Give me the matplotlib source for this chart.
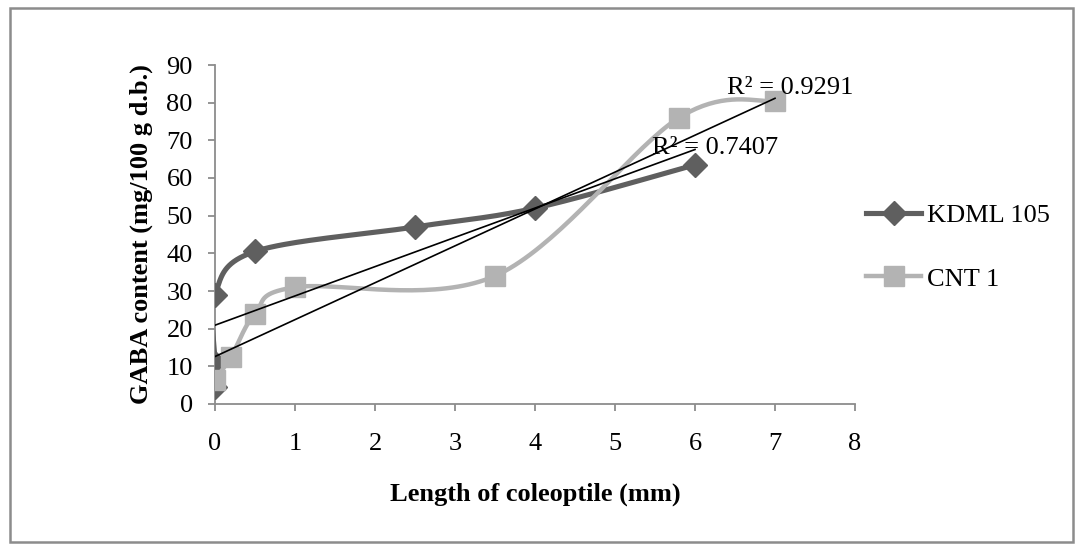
import numpy as np
import matplotlib
matplotlib.use("Agg")
import matplotlib.pyplot as plt
from matplotlib.patches import Rectangle
from matplotlib.lines import Line2D

# ---- data ----
kdml_x = [0, 0, 0, 0.5, 2.5, 4, 6]
kdml_y = [4.5, 11, 29, 40.5, 47, 52, 63.5]
cnt_x = [0, 0.2, 0.5, 1, 3.5, 5.8, 7]
cnt_y = [6.5, 12.5, 24, 31, 34, 76, 80.5]
series_names = ["KDML 105", "CNT 1"]
r2_labels = ["R² = 0.7407", "R² = 0.9291"]
x_ticks = [0, 1, 2, 3, 4, 5, 6, 7, 8]
y_ticks = [0, 10, 20, 30, 40, 50, 60, 70, 80, 90]
x_title = "Length of coleoptile (mm)"
y_title = "GABA content (mg/100 g d.b.)"

plt.rcParams['font.family'] = ['Liberation Serif', 'DejaVu Serif']
FS = 19


def smooth(xs, ys, n=40):
    """Catmull-Rom style Bezier smoothing (like Excel's smoothed line)."""
    P = np.column_stack([xs, ys]).astype(float)
    m = len(P)
    out = [P[0]]
    t = np.linspace(0, 1, n)[1:]
    for i in range(m - 1):
        p0 = P[i - 1] if i > 0 else P[i]
        p1 = P[i]
        p2 = P[i + 1]
        p3 = P[i + 2] if i + 2 < m else P[i + 1]
        c1 = p1 + (p2 - p0) / 6.0
        c2 = p2 - (p3 - p1) / 6.0
        for tt in t:
            b = ((1 - tt) ** 3) * p1 + 3 * ((1 - tt) ** 2) * tt * c1 + 3 * (1 - tt) * tt ** 2 * c2 + tt ** 3 * p2
            out.append(b)
    out = np.array(out)
    return out[:, 0], out[:, 1]


W, H = 1082, 551
fig = plt.figure(figsize=(W / 100, H / 100), dpi=100)
fig.patch.set_facecolor("white")

# outer chart border
fig.add_artist(Rectangle((9.5 / W, 1 - 542 / H), (1073 - 9.5) / W, (542 - 8) / H,
                         transform=fig.transFigure, fill=False,
                         edgecolor="#8c8c8c", linewidth=1.8))

ax = fig.add_axes([215 / W, 1 - 404 / H, (855 - 215) / W, (404 - 65) / H])
ax.set_xlim(0, 8)
ax.set_ylim(0, 90)

c_k = "#5f5f5f"
c_c = "#b3b3b3"
lw_k, lw_c = 3.7, 3.2
ms_k, ms_c = 12.5, 15

sx, sy = smooth(kdml_x, kdml_y)
ax.plot(sx, sy, color=c_k, lw=lw_k, solid_capstyle="round", zorder=3)
ax.plot(kdml_x, kdml_y, ls="none", marker="D", ms=ms_k, color=c_k, zorder=4)

sx, sy = smooth(cnt_x, cnt_y)
ax.plot(sx, sy, color=c_c, lw=lw_c, solid_capstyle="round", zorder=5)
ax.plot(cnt_x, cnt_y, ls="none", marker="s", ms=ms_c, color=c_c, zorder=6)

h1 = Line2D([], [], color=c_k, lw=lw_k, marker="D", ms=ms_k)
h2 = Line2D([], [], color=c_c, lw=lw_c, marker="s", ms=ms_c)

# linear trendlines
for xs, ys in [(kdml_x, kdml_y), (cnt_x, cnt_y)]:
    k, b = np.polyfit(xs, ys, 1)
    xx = np.array([min(xs), max(xs)])
    ax.plot(xx, k * xx + b, color="black", lw=1.2, zorder=7)

ax.text(5.46, 68, r2_labels[0], fontsize=FS, va="center", ha="left", zorder=8)
ax.text(6.4, 84, r2_labels[1], fontsize=FS, va="center", ha="left", zorder=8)

for s in ["top", "right"]:
    ax.spines[s].set_visible(False)
for s in ["left", "bottom"]:
    ax.spines[s].set_color("#8c8c8c")
    ax.spines[s].set_linewidth(1.3)

ax.set_xticks(x_ticks)
ax.set_yticks(y_ticks)
ax.tick_params(axis="both", direction="out", length=5, width=1.3, color="#8c8c8c",
               labelsize=FS)
ax.tick_params(axis="y", pad=11)
ax.tick_params(axis="x", pad=16)

ax.set_xlabel(x_title, fontsize=FS, fontweight="bold", labelpad=20)
ax.set_ylabel(y_title, fontsize=FS, fontweight="bold", labelpad=10)

fig.legend([h1, h2], series_names, loc="upper left",
           bbox_to_anchor=(866 / W, 1 - 204 / H), frameon=False, fontsize=FS,
           handlelength=2.1, handletextpad=0.2, labelspacing=1.5,
           borderpad=0, borderaxespad=0)

fig.savefig("out.png", dpi=100, facecolor="white")
